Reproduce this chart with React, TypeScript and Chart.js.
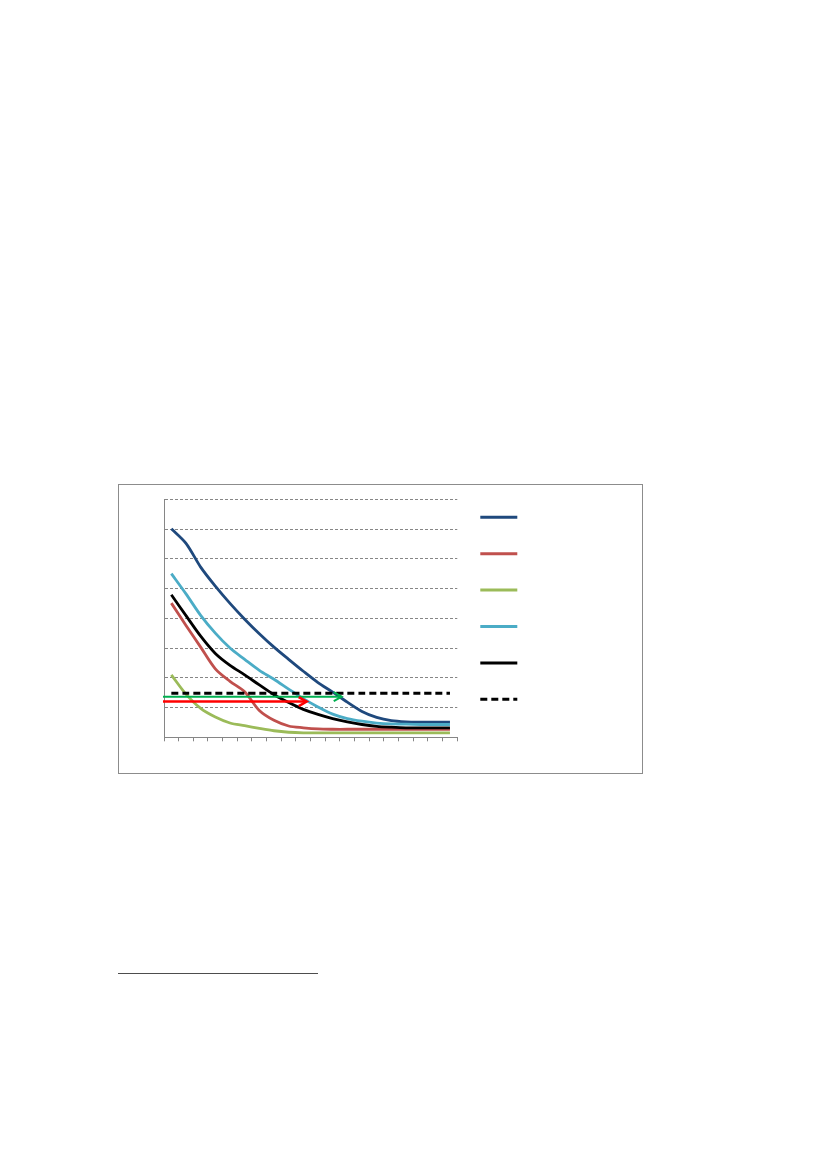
import React, { useEffect, useRef } from "react";
import { Chart, registerables } from "chart.js";

Chart.register(...registerables);

// 20 categories (no labels shown in the reference)
const categories: string[] = Array.from({ length: 20 }, (_, i) => String(i + 1));

const seriesDarkBlue = [7.01, 6.52, 5.72, 5.08, 4.5, 3.97, 3.48, 3.03, 2.62, 2.22, 1.84, 1.52, 1.18, 0.87, 0.67, 0.56, 0.52, 0.51, 0.51, 0.51];
const seriesRed = [4.51, 3.76, 3.03, 2.3, 1.88, 1.53, 0.9, 0.57, 0.38, 0.32, 0.28, 0.27, 0.27, 0.27, 0.27, 0.27, 0.27, 0.27, 0.27, 0.27];
const seriesGreen = [2.1, 1.45, 0.97, 0.68, 0.48, 0.39, 0.3, 0.22, 0.17, 0.15, 0.15, 0.15, 0.15, 0.15, 0.15, 0.15, 0.15, 0.15, 0.15, 0.15];
const seriesLightBlue = [5.5, 4.82, 4.1, 3.5, 3.0, 2.62, 2.25, 1.95, 1.62, 1.3, 1.02, 0.78, 0.63, 0.54, 0.48, 0.45, 0.44, 0.43, 0.43, 0.43];
const seriesBlack = [4.79, 4.09, 3.4, 2.82, 2.42, 2.1, 1.76, 1.43, 1.17, 0.94, 0.77, 0.63, 0.52, 0.43, 0.37, 0.34, 0.32, 0.32, 0.32, 0.32];
const thresholdValue = 1.48;
const seriesThreshold = categories.map(() => thresholdValue);

// y axis range / ticks (labels hidden)
const yMin = 0;
const yMax = 8;
const yStep = 1;

// horizontal arrows drawn on the chart (value y, end at fractional category index)
const arrowColors = ["#00B050", "#FF0000"];
const arrowYValues = [1.365, 1.2];
const arrowEndIndex = [11.62, 9.23];
const arrowWidths = [2, 2.5];

const legendPlugin = {
  id: "lineLegend",
  afterDraw(chart: any) {
    const { ctx, chartArea } = chart;
    const x0 = chartArea.right + 23;
    const x1 = chartArea.right + 60;
    const datasets = chart.data.datasets;
    ctx.save();
    datasets.forEach((ds: any, i: number) => {
      const y = chartArea.top + 18 + i * 36.4;
      ctx.beginPath();
      ctx.strokeStyle = ds.borderColor;
      ctx.lineWidth = 3;
      ctx.lineCap = "butt";
      ctx.setLineDash(ds.borderDash || []);
      ctx.moveTo(x0, y);
      ctx.lineTo(x1, y);
      ctx.stroke();
    });
    ctx.restore();
  },
};

const arrowPlugin = {
  id: "arrows",
  afterDatasetsDraw(chart: any) {
    const { ctx, chartArea, scales } = chart;
    ctx.save();
    arrowColors.forEach((color, i) => {
      const y = scales.y.getPixelForValue(arrowYValues[i]);
      const xs = chartArea.left - 1;
      const xe = scales.x.getPixelForValue(arrowEndIndex[i]);
      ctx.strokeStyle = color;
      ctx.lineWidth = arrowWidths[i];
      ctx.setLineDash([]);
      ctx.lineCap = "butt";
      ctx.beginPath();
      ctx.moveTo(xs, y);
      ctx.lineTo(xe, y);
      ctx.stroke();
      ctx.beginPath();
      ctx.moveTo(xe - 8, y - 4.5);
      ctx.lineTo(xe, y);
      ctx.lineTo(xe - 8, y + 4.5);
      ctx.stroke();
    });
    ctx.restore();
  },
};

function LineChart() {
  const ref = useRef<HTMLCanvasElement | null>(null);
  useEffect(() => {
    if (!ref.current) return;
    const mk = (data: number[], color: string, order: number, dash?: number[]) => ({
      label: "",
      data,
      borderColor: color,
      backgroundColor: color,
      borderWidth: 2.8,
      borderDash: dash,
      pointRadius: 0,
      tension: 0.3,
      fill: false,
      order,
    });
    const chart = new Chart(ref.current, {
      type: "line",
      data: {
        labels: categories,
        datasets: [
          mk(seriesDarkBlue, "#1F497D", 5),
          mk(seriesRed, "#C0504D", 4),
          mk(seriesGreen, "#9BBB59", 3),
          mk(seriesLightBlue, "#4BACC6", 2),
          mk(seriesBlack, "#000000", 1),
          mk(seriesThreshold, "#000000", 0, [7, 4]),
        ],
      },
      options: {
        animation: false,
        responsive: true,
        maintainAspectRatio: false,
        devicePixelRatio: 1,
        layout: { padding: { left: 45, top: 14.3, right: 184.7, bottom: 31.7 } },
        plugins: { legend: { display: false }, tooltip: { enabled: false }, title: { display: false } },
        scales: {
          x: {
            type: "category",
            offset: true,
            grid: {
              offset: true,
              drawOnChartArea: false,
              drawTicks: true,
              tickLength: 4,
              color: "#868686",
            },
            border: { display: true, color: "#868686", width: 1 },
            ticks: { display: false, autoSkip: false },
          },
          y: {
            min: yMin,
            max: yMax,
            grid: { drawTicks: false, color: "#868686", lineWidth: 1 },
            border: { display: true, color: "#868686", width: 1, dash: [3, 2] },
            ticks: { display: false, stepSize: yStep },
          },
        },
      },
      plugins: [arrowPlugin, legendPlugin],
    });
    return () => chart.destroy();
  }, []);
  return <canvas ref={ref} />;
}

export default function App() {
  return (
    <div style={{ position: "relative", width: 827, height: 1170 }}>
      <div
        style={{
          position: "absolute",
          left: 118 - 8,
          top: 484 - 8,
          width: 525,
          height: 290,
          boxSizing: "border-box",
          border: "1px solid #8c8c8c",
          background: "#fff",
        }}
      >
        <div style={{ position: "absolute", left: 0, top: 0, width: 523, height: 288 }}>
          <LineChart />
        </div>
      </div>
      <div
        style={{
          position: "absolute",
          left: 118 - 8,
          top: 973 - 8,
          width: 200,
          height: 1,
          background: "#4d4d4d",
        }}
      />
    </div>
  );
}
